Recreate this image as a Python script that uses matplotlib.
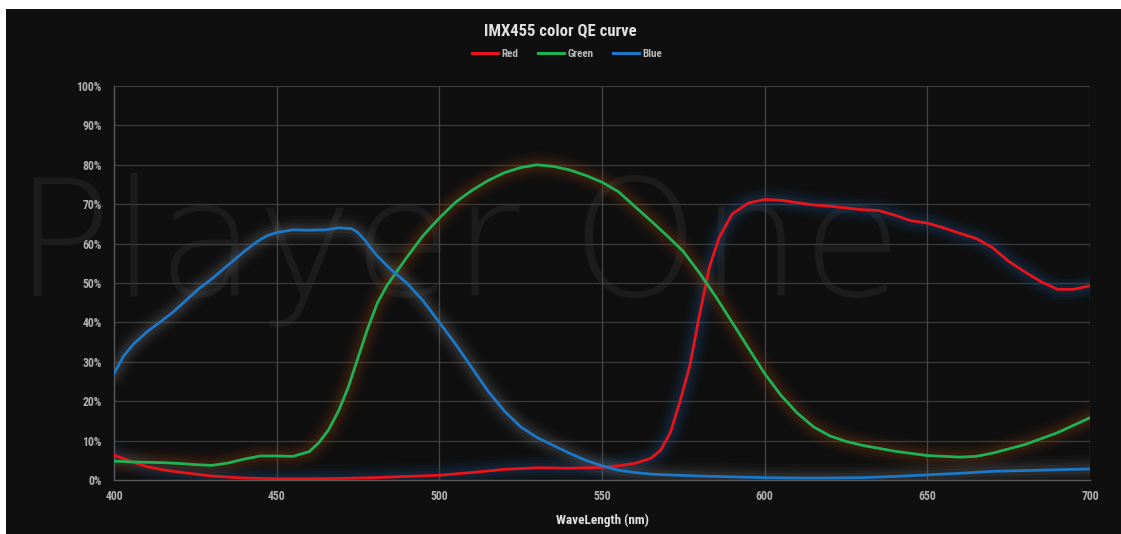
import matplotlib
matplotlib.use("Agg")
import matplotlib.pyplot as plt
from matplotlib.patches import Rectangle
from matplotlib import font_manager

# ---- data ----
red_wl = [400, 405, 410, 415, 420, 430, 440, 450, 460, 470, 480, 490, 500, 510, 520, 530, 540, 550, 555, 560,
          565, 568, 571, 574, 577, 580, 583, 586, 590, 595, 600, 605, 610, 615, 620, 630, 635, 640, 645, 650,
          655, 660, 665, 670, 675, 680, 685, 690, 695, 700]
red_qe = [6.3, 4.8, 3.4, 2.6, 2.0, 1.0, 0.5, 0.3, 0.3, 0.4, 0.6, 0.9, 1.2, 1.9, 2.7, 3.1, 3.0, 3.2, 3.6, 4.2,
          5.5, 7.5, 12.0, 20.0, 29.0, 42.0, 54.0, 61.5, 67.5, 70.3, 71.2, 71.0, 70.4, 69.8, 69.5, 68.6, 68.4, 67.2, 65.8, 65.2,
          64.0, 62.6, 61.3, 59.0, 55.5, 52.8, 50.3, 48.4, 48.4, 49.3]

green_wl = [400, 405, 410, 415, 420, 425, 430, 435, 440, 445, 450, 455, 460, 463, 466, 469, 472, 475, 478, 481,
            484, 487, 490, 495, 500, 505, 510, 515, 520, 525, 530, 535, 540, 545, 550, 555, 560, 565, 570, 575,
            580, 585, 590, 595, 600, 605, 610, 615, 620, 625, 630, 640, 650, 660, 665, 670, 680, 690, 700]
green_qe = [4.8, 4.6, 4.5, 4.4, 4.2, 3.9, 3.7, 4.3, 5.3, 6.1, 6.1, 6.0, 7.2, 9.5, 12.8, 17.5, 23.5, 31.0, 38.5, 45.0,
            49.5, 53.0, 56.5, 62.0, 66.5, 70.5, 73.5, 76.0, 78.0, 79.3, 80.0, 79.6, 78.7, 77.3, 75.6, 73.2, 69.5, 65.8, 62.0, 58.0,
            52.5, 46.5, 40.0, 33.5, 27.0, 21.5, 17.0, 13.5, 11.2, 9.8, 8.8, 7.3, 6.2, 5.8, 6.0, 6.8, 9.0, 12.0, 15.8]

blue_wl = [400, 403, 406, 410, 414, 418, 422, 426, 430, 435, 440, 444, 447, 450, 455, 460, 465, 469, 473, 475,
           477, 479, 481, 485, 490, 495, 500, 505, 510, 515, 520, 525, 530, 535, 540, 545, 550, 555, 560, 565, 570,
           580, 590, 600, 610, 620, 630, 640, 650, 660, 670, 680, 690, 700]
blue_qe = [27.0, 31.5, 34.5, 37.5, 40.0, 42.5, 45.5, 48.5, 51.0, 54.5, 58.0, 60.5, 62.0, 62.8, 63.5, 63.4, 63.5, 64.0, 63.8, 62.8,
           61.0, 58.8, 56.8, 53.5, 50.0, 45.5, 40.0, 34.5, 28.5, 22.5, 17.5, 13.5, 10.8, 8.8, 6.8, 5.0, 3.6, 2.5, 1.9, 1.5, 1.3,
           1.0, 0.8, 0.6, 0.5, 0.5, 0.6, 0.9, 1.3, 1.7, 2.2, 2.4, 2.6, 2.8]

x_ticks = [400, 450, 500, 550, 600, 650, 700]
y_ticks = [0, 10, 20, 30, 40, 50, 60, 70, 80, 90, 100]
y_tick_labels = [f"{v}%" for v in y_ticks]

series = [
    ("Red", red_wl, red_qe, "#e8141c", "#1f5488"),
    ("Green", green_wl, green_qe, "#1fb255", "#8a4010"),
    ("Blue", blue_wl, blue_qe, "#1c78c8", "#707070"),
]

# find a condensed font if one is installed
names = {f.name for f in font_manager.fontManager.ttflist}
cond = [n for n in ["DejaVu Sans Condensed", "Liberation Sans Narrow", "Roboto Condensed",
                    "Open Sans Condensed", "Noto Sans Condensed"] if n in names]
condensed_found = bool(cond)
fam = cond + ["DejaVu Sans"]
scale = 1.0 if condensed_found else 0.85

BG = "#0f0f0f"
W, H = 1121, 534
fig = plt.figure(figsize=(W / 100, H / 100), dpi=100, facecolor="white")
fig.patches.append(Rectangle((6 / W, 0), 1 - 6 / W, 1 - 9 / H, transform=fig.transFigure,
                             facecolor=BG, edgecolor="none", zorder=-10))

CF = dict(family=fam, weight="bold")

# watermark
fig.text(14 / W, 1 - 296 / H, "Player One", family="DejaVu Sans", weight="light", fontsize=117,
         color="#1c1c1c", ha="left", va="baseline", zorder=-5)

ax = fig.add_axes([114 / W, 1 - 480 / H, (1090 - 114) / W, (480 - 86) / H])
ax.patch.set_alpha(0)
ax.set_xlim(400, 700)
ax.set_ylim(0, 100)

for v in y_ticks[1:]:
    ax.axhline(v, color="#3b3b3b", lw=0.9, zorder=1)
for v in x_ticks[1:]:
    ax.axvline(v, color="#464646", lw=0.9, zorder=1)
for s in ["top", "right"]:
    ax.spines[s].set_visible(False)
for s in ["left", "bottom"]:
    ax.spines[s].set_color("#5a5a5a")
    ax.spines[s].set_linewidth(1.0)

# glow layers
for name, wl, qe, col, glow in series:
    for lw, a in [(20, 0.05), (15, 0.07), (11, 0.09), (7, 0.13)]:
        ax.plot(wl, qe, color=glow, lw=lw, alpha=a, solid_capstyle="round", zorder=2)
for name, wl, qe, col, glow in series:
    ax.plot(wl, qe, color=col, lw=2.0, label=name, zorder=3, solid_joinstyle="round")

ax.set_xticks(x_ticks)
ax.set_xticklabels([str(v) for v in x_ticks], color="#b0b0b0", fontsize=8.5 * scale, **CF)
ax.set_yticks(y_ticks)
ax.set_yticklabels(y_tick_labels, color="#b0b0b0", fontsize=8.5 * scale, **CF)
ax.tick_params(axis="x", length=0, pad=7)
ax.tick_params(axis="y", length=0, pad=9)
ax.set_xlabel("WaveLength (nm)", color="#e0e0e0", fontsize=9.5 * scale, labelpad=8, **CF)

fig.text(0.5, 1 - 32 / H, "IMX455 color QE curve", color="#e0e0e0", fontsize=12 * scale,
         ha="center", va="center", **CF)

handles = [plt.Line2D([], [], color=c, lw=2.2) for _, _, _, c, _ in series]
leg = fig.legend(handles, [s[0] for s in series], loc="center", bbox_to_anchor=(0.506, 1 - 54 / H),
                 ncol=3, frameon=False, handlelength=2.3, handletextpad=0.3, columnspacing=1.8,
                 prop=dict(family=fam, weight="bold", size=8 * scale))
for t in leg.get_texts():
    t.set_color("#b8b8b8")

fig.savefig("out.png", dpi=100, facecolor=fig.get_facecolor())
